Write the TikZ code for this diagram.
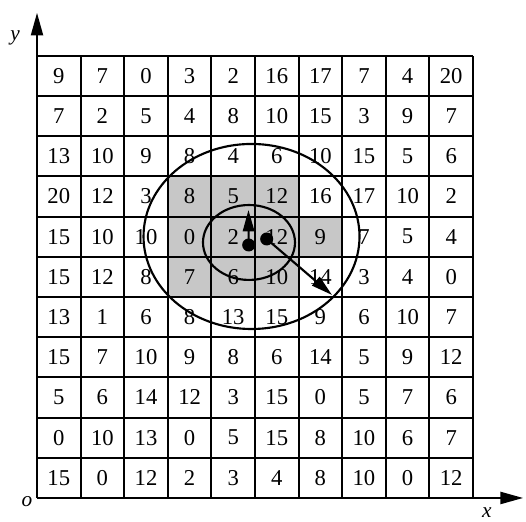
\documentclass[tikz,border=0pt]{standalone}
\usepackage{fontspec}
\setmainfont{Liberation Serif}
\usetikzlibrary{
    arrows.meta
}

\begin{document}
\begin{tikzpicture}[
        x=32.7pt,
        y=30.15pt,
        gridline/.style={
            line width=1.6pt
        },
        shade/.style={
            fill=black!22
        },
        num/.style={
            font=\fontsize{17}{20}\selectfont,
            inner sep=0pt
        },
        lab/.style={
            font=\fontsize{16}{19}\selectfont\itshape,
            inner sep=0pt
        },
        axis/.style={
            line width=1.6pt,
            -{Triangle[length=17pt, width=9pt]}
        },
        ring/.style={
            line width=1.6pt
        },
        dot/.style={
            circle,
            fill=black,
            minimum size=9.75pt,
            inner sep=0pt
        },
        line/.style={
            line width=1.6pt,
            -{Triangle[length=16pt, width=8.5pt]}
        }
    ]

    \useasboundingbox (-0.849,-0.597) rectangle (11.216,12.388);

    \fill[shade] (3,7) rectangle (6,8)
                 (3,6) rectangle (7,7)
                 (3,5) rectangle (6,6);

    \draw[gridline] (0,0) grid[step={(1,1)}] (10,11);

    \foreach \vals [count=\r] in {
            {9,7,0,3,2,16,17,7,4,20},
            {7,2,5,4,8,10,15,3,9,7},
            {13,10,9,8,4,6,10,15,5,6},
            {20,12,3,8,5,12,16,17,10,2},
            {15,10,10,0,2,12,9,7,5,4},
            {15,12,8,7,6,10,14,3,4,0},
            {13,1,6,8,13,15,9,6,10,7},
            {15,7,10,9,8,6,14,5,9,12},
            {5,6,14,12,3,15,0,5,7,6},
            {0,10,13,0,5,15,8,10,6,7},
            {15,0,12,2,3,4,8,10,0,12}} {
        \foreach \v [count=\c] in \vals {
            \node[num] (c-\r-\c) at (\c-0.5, 11.5-\r) {\v};
        }
    }

    \draw[ring] (4.862,6.356) ellipse [x radius=34.5pt, y radius=28.1pt];
    \draw[ring] (4.92,6.505) ellipse [x radius=81pt, y radius=69.4pt];

    \coordinate (o) at (0,0);
    \coordinate (xend) at (11.15,0);
    \coordinate (yend) at (0,12.07);
    \draw[axis] (o) -- (xend);
    \draw[axis] (o) -- (yend);

    \node[lab] (olab) at (-0.229,-0.1) {o};
    \node[lab] (xlab) at (10.32,-0.37) {x};
    \node[lab] (ylab) at (-0.505,11.44) {y};

    \node[dot] (p1) at (4.855,6.294) {};
    \node[dot] (p2) at (5.268,6.443) {};
    \coordinate (t1) at (4.85,7.164);
    \coordinate (t2) at (6.766,5.05);
    \draw[line] (p1.center) -- (t1);
    \draw[line] (p2.center) -- (t2);

\end{tikzpicture}
\end{document}
